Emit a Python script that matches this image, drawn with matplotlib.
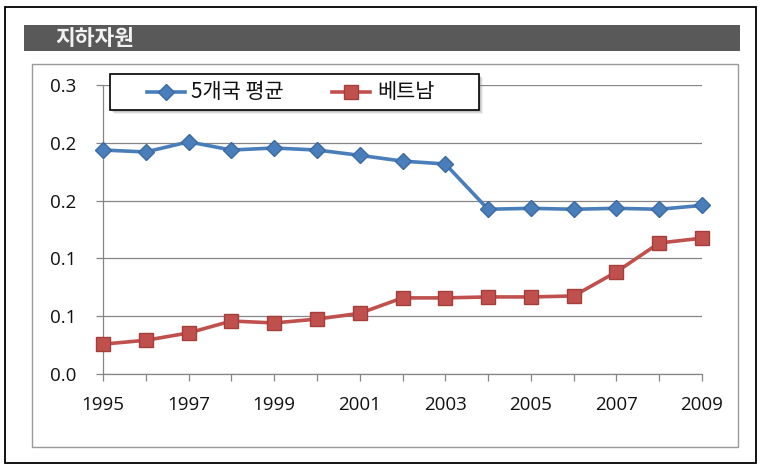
import matplotlib
matplotlib.use("Agg")
import matplotlib.pyplot as plt
from matplotlib.patches import Rectangle
from matplotlib.lines import Line2D

years = list(range(1995, 2010))
avg5 = [0.2325, 0.2305, 0.241, 0.2325, 0.2346, 0.2325, 0.227, 0.221, 0.218,
        0.171, 0.172, 0.171, 0.172, 0.171, 0.175]
vietnam = [0.031, 0.035, 0.0426, 0.055, 0.053, 0.057, 0.063, 0.079, 0.079,
           0.080, 0.080, 0.081, 0.106, 0.136, 0.141]
series_names = ["5개국 평균", "베트남"]
title = "지하자원"
yticks = [0.0, 0.06, 0.12, 0.18, 0.24, 0.30]
ytick_labels = ["0.0", "0.1", "0.1", "0.2", "0.2", "0.3"]

W, H = 761, 474
fig = plt.figure(figsize=(W / 100, H / 100), dpi=100)
fig.patch.set_facecolor("white")

def fx(x):
    return x / W

def fy(y):
    return 1 - y / H

KR = ["Noto Sans CJK KR", "DejaVu Sans"]
NUM = ["Open Sans", "DejaVu Sans"]

# outer frame
fig.add_artist(Rectangle((fx(5), fy(463)), fx(756) - fx(5), fy(7) - fy(463),
                         transform=fig.transFigure, fill=False, edgecolor="black", lw=1.3))
# title bar
fig.add_artist(Rectangle((fx(24), fy(51)), fx(740) - fx(24), fy(25) - fy(51),
                         transform=fig.transFigure, facecolor="#595959", edgecolor="none"))
fig.text(fx(55), fy(38.5), title, color="#F2F2F2", fontsize=15.5, fontweight="bold",
         family=KR, va="center", ha="left")
# inner chart frame
fig.add_artist(Rectangle((fx(32), fy(447)), fx(738) - fx(32), fy(64) - fy(447),
                         transform=fig.transFigure, fill=False, edgecolor="#9A9A9A", lw=1.0))

ax = fig.add_axes([fx(103), fy(374), fx(702) - fx(103), fy(85) - fy(374)])
ax.set_xlim(1995, 2009)
ax.set_ylim(0, 0.3)
ax.set_facecolor("none")

grid_c = "#868686"
for s in ["top", "right"]:
    ax.spines[s].set_visible(False)
for s in ["left", "bottom"]:
    ax.spines[s].set_color(grid_c)
    ax.spines[s].set_linewidth(0.9)

ax.set_yticks(yticks)
ax.set_yticklabels(ytick_labels)
ax.yaxis.grid(True, color=grid_c, lw=0.9)
ax.set_axisbelow(True)

ax.set_xticks(years)
ax.set_xticklabels([str(y) if (y - 1995) % 2 == 0 else "" for y in years])

ax.tick_params(axis="both", direction="out", length=5, width=0.9, color=grid_c,
               labelsize=13.5, labelcolor="#111111")
ax.tick_params(axis="y", pad=14)
ax.tick_params(axis="x", pad=11)
for lab in ax.get_xticklabels() + ax.get_yticklabels():
    lab.set_family(NUM)

blue = "#4A7EBB"
red = "#C0504D"
ax.plot(years, avg5, color=blue, lw=2.6, marker="D", markersize=8,
        markerfacecolor=blue, markeredgecolor="#3B6AA3", clip_on=False, zorder=3)
ax.plot(years, vietnam, color=red, lw=2.6, marker="s", markersize=9.5,
        markerfacecolor=red, markeredgecolor="#A33E3B", clip_on=False, zorder=3)

# legend (manual)
for off, a in [(4, 0.12), (3, 0.18), (2, 0.25)]:
    fig.add_artist(Rectangle((fx(110 + off), fy(110 + off)), fx(479) - fx(110), fy(74) - fy(110),
                             transform=fig.transFigure, facecolor="#7F7F7F", edgecolor="none",
                             alpha=a, zorder=5))
fig.add_artist(Rectangle((fx(110), fy(110)), fx(479) - fx(110), fy(74) - fy(110),
                         transform=fig.transFigure, facecolor="white", edgecolor="black",
                         lw=1.2, zorder=6))
ly = fy(92)
fig.add_artist(Line2D([fx(147), fx(185)], [ly, ly], transform=fig.transFigure, color=blue,
                      lw=2.6, zorder=7))
fig.add_artist(Line2D([fx(166)], [ly], transform=fig.transFigure, color=blue, marker="D",
                      markersize=8, markeredgecolor="#3B6AA3", zorder=7))
fig.text(fx(191), ly, series_names[0], family=KR, fontsize=15, va="center", ha="left",
         color="#111111", zorder=8)
fig.add_artist(Line2D([fx(332), fx(370)], [ly, ly], transform=fig.transFigure, color=red,
                      lw=2.6, zorder=7))
fig.add_artist(Line2D([fx(351)], [ly], transform=fig.transFigure, color=red, marker="s",
                      markersize=9.5, markeredgecolor="#A33E3B", zorder=7))
fig.text(fx(377), ly, series_names[1], family=KR, fontsize=15, va="center", ha="left",
         color="#111111", zorder=8)

fig.savefig("out.png", dpi=100)
